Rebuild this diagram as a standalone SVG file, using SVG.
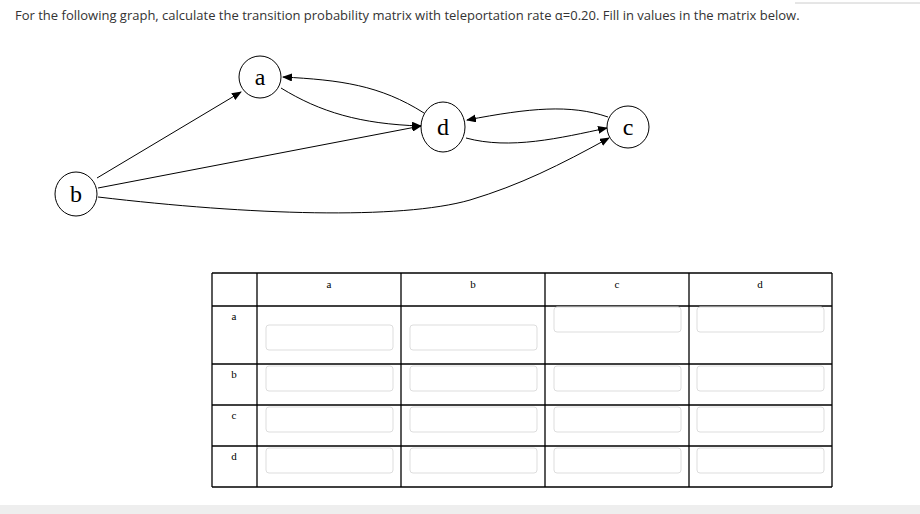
<svg xmlns="http://www.w3.org/2000/svg" width="920" height="514" viewBox="0 0 920 514">
<style>
.t{font-family:"Open Sans",sans-serif;font-size:13px;fill:#333}
.n ellipse{fill:#fff;stroke:#000;stroke-width:1}
.n text{font-family:"Liberation Serif",serif;font-size:24px;text-anchor:middle}
.e path{fill:none;stroke:#000;stroke-width:1;marker-end:url(#ar)}
.g line{stroke:#000;stroke-width:1.3}
.h{font-family:"Liberation Serif",serif;font-size:11px;text-anchor:middle}
.in{fill:#fff;stroke:#ddd;stroke-width:1}
</style>
<defs><marker id="ar" markerWidth="10" markerHeight="8" refX="9" refY="4" orient="auto" markerUnits="userSpaceOnUse"><path d="M0,0L10,4L0,8z"/></marker></defs>
<rect width="920" height="514" fill="#fff"/>
<line x1="795" y1="3" x2="920" y2="3" stroke="#ccc"/>
<rect x="0" y="505" width="920" height="9" fill="#eee"/>
<text class="t" x="15" y="20">For the following graph, calculate the transition probability matrix with teleportation rate α=0.20. Fill in values in the matrix below.</text>
<g class="e">
<path d="M97,178L241,92"/>
<path d="M281,88C320,112 360,124 421,126"/>
<path d="M424,113C380,85 340,80 283,77"/>
<path d="M98,188L421,126"/>
<path d="M466,138C510,150 560,138 607,128"/>
<path d="M608,117C570,104 530,108 467,120"/>
<path d="M98,197C250,215 400,220 470,200C520,185 560,165 609,138"/>
</g>
<g id="a" class="n"><ellipse cx="260" cy="77" rx="21" ry="21"/><text x="260" y="85">a</text></g>
<g id="d" class="n"><ellipse cx="443" cy="127" rx="22" ry="25"/><text x="443" y="135">d</text></g>
<g id="c" class="n"><ellipse cx="628" cy="127" rx="21" ry="21"/><text x="628" y="135">c</text></g>
<g id="b" class="n"><ellipse cx="76" cy="194" rx="21" ry="22"/><text x="76" y="202">b</text></g>
<g class="g">
<line x1="212" y1="273" x2="832" y2="273"/><line x1="212" y1="306" x2="832" y2="306"/>
<line x1="212" y1="364" x2="832" y2="364"/><line x1="212" y1="405" x2="832" y2="405"/>
<line x1="212" y1="446" x2="832" y2="446"/><line x1="212" y1="487" x2="832" y2="487"/>
<line x1="212" y1="273" x2="212" y2="487"/><line x1="257" y1="273" x2="257" y2="487"/>
<line x1="401" y1="273" x2="401" y2="487"/><line x1="545" y1="273" x2="545" y2="487"/>
<line x1="689" y1="273" x2="689" y2="487"/><line x1="832" y1="273" x2="832" y2="487"/>
</g>
<g class="h">
<text x="329" y="288">a</text><text x="473" y="288">b</text><text x="617" y="288">c</text><text x="760" y="288">d</text>
<text x="234" y="320">a</text><text x="234" y="378">b</text><text x="234" y="419">c</text><text x="234" y="460">d</text>
</g>
<g>
<rect class="in" x="266" y="325" width="127" height="25" rx="3"/><rect class="in" x="410" y="325" width="127" height="25" rx="3"/><rect class="in" x="554" y="307" width="127" height="25" rx="3"/><rect class="in" x="697" y="307" width="127" height="25" rx="3"/>
<rect class="in" x="266" y="366" width="127" height="25" rx="3"/><rect class="in" x="410" y="366" width="127" height="25" rx="3"/><rect class="in" x="554" y="366" width="127" height="25" rx="3"/><rect class="in" x="697" y="366" width="127" height="25" rx="3"/>
<rect class="in" x="266" y="407" width="127" height="25" rx="3"/><rect class="in" x="410" y="407" width="127" height="25" rx="3"/><rect class="in" x="554" y="407" width="127" height="25" rx="3"/><rect class="in" x="697" y="407" width="127" height="25" rx="3"/>
<rect class="in" x="266" y="448" width="127" height="25" rx="3"/><rect class="in" x="410" y="448" width="127" height="25" rx="3"/><rect class="in" x="554" y="448" width="127" height="25" rx="3"/><rect class="in" x="697" y="448" width="127" height="25" rx="3"/>
</g>
</svg>
